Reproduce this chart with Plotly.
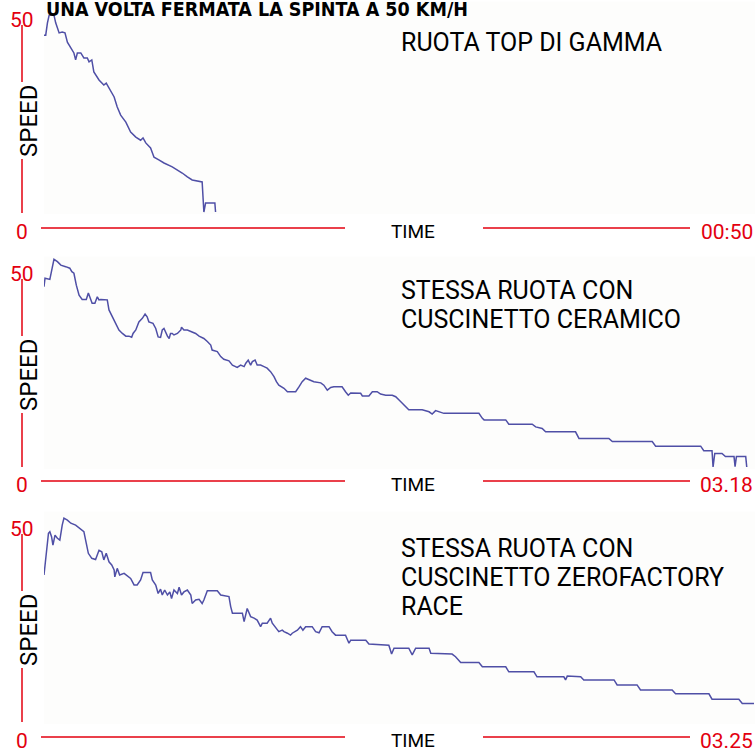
import plotly.graph_objects as go

# ---------------- data (time in s, speed in km/h) ----------------
t1 = [0, 0.5, 1.0, 1.5, 2.9, 3.4, 4.4, 5.3, 6.1, 6.8, 7.8, 8.7, 9.2, 9.7, 10.7, 11.6, 12.6, 13.1, 13.9,
      14.5, 16.0, 17.4, 18.1, 18.9, 20.4, 21.3, 22.3, 23.8, 25.2, 26.7, 28.1, 28.8, 29.6, 31.0, 32.0,
      33.4, 34.9, 37.3, 38.8, 40.2, 41.7, 43.1, 46.0, 46.2, 46.5, 47.0, 49.7, 49.9]
v1 = [45.8, 45.8, 49.0, 51.0, 51.0, 49.0, 46.4, 46.6, 46.4, 44.0, 42.5, 41.2, 39.4, 41.2, 41.2, 39.9, 39.9,
      38.9, 39.4, 36.3, 34.2, 32.9, 33.4, 32.1, 29.8, 27.2, 25.1, 23.3, 20.7, 19.4, 18.6, 19.2, 17.9,
      16.6, 14.2, 13.5, 12.7, 11.7, 10.9, 10.1, 9.1, 8.3, 7.8, 3.1, 0.0, 2.3, 2.3, 0.0]

t2 = [0, 0.3, 1.7, 2.9, 3.9, 4.9, 6.3, 7.5, 8.1, 8.7, 9.4, 10.2, 11.1, 12.3, 12.9, 13.3, 14.0, 14.8, 15.5,
      16.0, 16.5, 18.4, 18.9, 19.9, 20.8, 21.8, 22.8, 23.8, 24.7, 25.5, 25.9, 26.7, 27.6, 28.6, 29.4,
      30.0, 30.5, 31.7, 32.5, 33.2, 33.9, 34.4, 34.9, 35.4, 35.9, 36.4, 36.8, 37.3, 37.8, 38.8, 39.8,
      40.0, 40.7, 41.7, 43.1, 44.1, 45.1, 46.5, 47.5, 48.5, 48.9, 50.4, 51.4, 52.3, 53.8, 54.8, 56.2,
      57.2, 58.2, 58.7, 59.4, 60.1, 60.6, 61.4, 62.0, 63.0, 64.0, 64.9, 65.9, 66.9, 67.6, 68.3, 69.8,
      70.8, 72.2, 73.2, 74.2, 75.1, 76.1, 77.6, 78.5, 80.5, 81.4, 82.4, 83.4, 84.3, 86.7, 87.7, 88.5,
      89.2, 90.6, 92.1, 92.6, 94.5, 95.5, 96.9, 97.9, 99.4, 101.3, 102.3, 103.2, 104.2, 105.2, 106.1,
      110.0, 112.0, 112.9, 113.9, 116.3, 126.5, 127.5, 128.0, 134.3, 135.2, 142.0, 143.0, 144.9, 145.9,
      154.6, 155.6, 164.3, 165.3, 176.9, 177.9, 191.0, 191.9, 194.3, 194.6, 195.1, 197.2, 198.2, 200.7,
      201.0, 201.4, 204.1, 204.4]
v2 = [46.7, 48.9, 48.6, 53.8, 53.2, 52.3, 51.9, 51.5, 50.6, 50.2, 47.1, 44.5, 43.4, 43.4, 45.1, 44.1, 42.4,
      42.4, 44.1, 43.3, 43.4, 43.3, 40.7, 38.9, 37.2, 35.5, 34.6, 33.9, 33.9, 33.6, 34.6, 35.5, 37.6,
      38.5, 39.6, 38.9, 37.6, 37.2, 35.9, 33.7, 33.6, 35.5, 35.9, 34.6, 33.9, 33.3, 34.6, 34.6, 34.2,
      34.6, 35.5, 36.2, 35.5, 35.5, 35.0, 34.6, 33.9, 33.3, 32.5, 31.6, 30.3, 29.9, 28.6, 27.9, 27.5,
      26.4, 25.8, 26.4, 26.0, 26.9, 27.7, 26.4, 27.3, 27.7, 26.4, 26.4, 26.0, 25.6, 24.7, 23.4, 22.1,
      21.2, 20.4, 19.5, 19.5, 19.5, 20.8, 22.1, 23.0, 22.5, 22.1, 21.8, 21.2, 19.9, 20.6, 20.8, 20.8,
      19.5, 18.6, 19.2, 19.2, 19.1, 18.4, 18.4, 19.5, 19.5, 18.9, 18.6, 18.6, 18.2, 17.4, 16.5, 15.6,
      14.8, 14.8, 14.3, 13.7, 14.6, 13.9, 13.9, 12.6, 12.2, 12.2, 11.1, 11.1, 10.4, 10.0, 9.1, 9.1, 7.4,
      7.4, 6.6, 6.6, 5.4, 5.4, 4.2, 4.2, 0.0, 3.5, 3.5, 2.7, 2.7, 0.1, 2.7, 2.7, 0.0]

t3 = [0, 0.5, 1.3, 1.7, 2.2, 2.6, 3.2, 3.9, 4.6, 5.3, 5.8, 6.8, 7.8, 9.2, 10.2, 11.6, 12.3, 12.9, 13.9,
      15.0, 16.0, 16.8, 17.4, 18.1, 18.9, 19.7, 20.4, 20.6, 21.3, 22.0, 23.3, 24.5, 25.2, 26.2, 27.1,
      28.1, 28.8, 31.0, 31.5, 32.5, 33.2, 33.9, 34.4, 35.1, 35.9, 36.6, 37.1, 37.8, 38.8, 39.3, 40.0,
      40.7, 41.7, 42.7, 43.1, 44.1, 45.1, 46.0, 46.5, 47.5, 50.4, 51.4, 53.8, 54.3, 54.8, 57.7, 58.2,
      59.1, 60.1, 61.1, 62.0, 63.0, 63.5, 64.9, 65.9, 66.4, 67.4, 68.3, 69.3, 69.8, 70.8, 71.7, 72.2,
      73.7, 74.6, 75.3, 76.1, 78.0, 79.0, 80.0, 80.9, 82.9, 83.8, 84.8, 87.7, 88.7, 89.2, 93.6, 94.5,
      100.3, 101.1, 101.8, 106.1, 107.1, 108.1, 112.0, 112.5, 118.7, 119.7, 121.2, 126.5, 127.5, 134.3,
      135.2, 142.5, 143.4, 151.2, 151.7, 152.2, 156.1, 157.0, 165.8, 166.7, 172.5, 173.5, 182.7, 183.7,
      193.4, 194.3, 202.1, 203.1, 206.5]
v3 = [38.1, 42.8, 48.9, 49.3, 48.0, 45.8, 48.4, 47.6, 47.1, 51.0, 52.8, 52.3, 51.5, 51.0, 50.2, 49.3, 46.3,
      43.7, 42.4, 42.1, 44.5, 44.1, 42.0, 43.7, 41.5, 40.7, 39.4, 37.6, 39.8, 38.1, 38.5, 37.6, 37.2,
      35.5, 35.5, 36.8, 38.7, 38.7, 36.8, 35.5, 33.3, 34.4, 32.9, 34.2, 32.9, 33.7, 32.0, 34.2, 33.3,
      34.9, 32.9, 33.7, 34.2, 32.9, 30.7, 31.6, 31.8, 30.7, 31.6, 34.0, 34.0, 32.9, 32.5, 29.9, 28.2,
      28.2, 26.0, 29.4, 27.3, 26.9, 26.4, 24.7, 25.6, 25.6, 26.9, 25.6, 24.3, 23.4, 23.8, 23.4, 23.0,
      22.5, 23.0, 23.8, 24.7, 23.8, 24.7, 24.7, 23.4, 23.1, 24.7, 24.7, 23.4, 22.5, 22.5, 20.4, 21.2,
      21.2, 20.2, 19.9, 17.6, 19.1, 19.1, 17.4, 19.1, 19.1, 17.8, 17.6, 16.9, 15.4, 15.4, 14.3, 14.3,
      13.0, 13.0, 11.7, 11.7, 10.9, 11.9, 11.7, 10.9, 10.9, 9.6, 9.6, 8.3, 8.3, 7.3, 7.3, 5.9, 5.9,
      4.8, 4.8]

series_t = [t1, t2, t3]
series_v = [v1, v2, v3]
descriptions = [["RUOTA TOP DI GAMMA"],
                ["STESSA RUOTA CON", "CUSCINETTO CERAMICO"],
                ["STESSA RUOTA CON", "CUSCINETTO ZEROFACTORY", "RACE"]]
end_labels = ["00:50", "03.18", "03.25"]
y_top_label = "50"
y_zero_label = "0"
title = "UNA VOLTA FERMATA LA SPINTA A 50 KM/H"

# ---------------- layout helpers ----------------
W, H = 755, 751
RED = "#e3000f"
LINE = "#4f4fa6"
FONT = "Roboto"
TITLE_FONT = "Liberation Sans Narrow, DejaVu Sans Condensed, Roboto Condensed, Arial Narrow, Roboto, sans-serif"


def fx(p):
    return p / W


def fy(p):
    return 1 - p / H


bottoms = [212, 467, 722]          # pixel of speed 0 in each panel
ppu = 3.86                         # pixels per km/h
YR = [-0.5, 54.5]
desc_y = [[43], [290, 319], [548, 577, 606]]

fig = go.Figure()
layout = dict(width=W, height=H, margin=dict(l=0, r=0, t=0, b=0),
              paper_bgcolor="white", plot_bgcolor="#fdfdfc", showlegend=False)

shapes = []
annotations = []
for i in range(3):
    sfx = "" if i == 0 else str(i + 1)
    B = bottoms[i]
    b_px = B - YR[0] * ppu
    t_px = b_px - (YR[1] - YR[0]) * ppu
    layout["xaxis" + sfx] = dict(domain=[fx(44), 1], range=[0, 206.8], visible=False,
                                 anchor="y" + sfx, fixedrange=True)
    layout["yaxis" + sfx] = dict(domain=[fy(b_px), min(1, fy(t_px))], range=YR, visible=False,
                                 anchor="x" + sfx, fixedrange=True)
    fig.add_trace(go.Scatter(x=series_t[i], y=series_v[i], mode="lines",
                             line=dict(color=LINE, width=1.5),
                             xaxis="x" + sfx, yaxis="y" + sfx, hoverinfo="skip"))

    off = [0, 254, 509][i]
    shapes.append(dict(type="line", xref="paper", yref="paper", x0=fx(22), x1=fx(22),
                       y0=fy(25 + off), y1=fy(82 + off), line=dict(color=RED, width=1.5)))
    shapes.append(dict(type="line", xref="paper", yref="paper", x0=fx(22), x1=fx(22),
                       y0=fy(159 + off), y1=fy(213 + off), line=dict(color=RED, width=1.5)))
    hy = [228, 481, 737][i]
    shapes.append(dict(type="line", xref="paper", yref="paper", x0=fx(41), x1=fx(345),
                       y0=fy(hy), y1=fy(hy), line=dict(color=RED, width=1.5)))
    shapes.append(dict(type="line", xref="paper", yref="paper", x0=fx(483), x1=fx(690),
                       y0=fy(hy), y1=fy(hy), line=dict(color=RED, width=1.5)))

    annotations.append(dict(text=y_top_label, x=fx(22), y=fy(20 + off), xref="paper", yref="paper",
                            showarrow=False, xanchor="center", yanchor="middle",
                            font=dict(family=FONT, size=21, color=RED)))
    annotations.append(dict(text=y_zero_label, x=fx(22), y=fy(hy + 4), xref="paper", yref="paper",
                            showarrow=False, xanchor="center", yanchor="middle",
                            font=dict(family=FONT, size=21, color=RED)))
    annotations.append(dict(text="SPEED", x=fx(29), y=fy(121 + off), xref="paper", yref="paper",
                            showarrow=False, xanchor="center", yanchor="middle", textangle=-90,
                            font=dict(family=FONT, size=24, color="black")))
    annotations.append(dict(text="TIME", x=fx(413), y=fy(hy + 3), xref="paper", yref="paper",
                            showarrow=False, xanchor="center", yanchor="middle",
                            font=dict(family=FONT, size=19, color="black")))
    annotations.append(dict(text=end_labels[i], x=1, y=fy(hy + 4), xref="paper", yref="paper",
                            showarrow=False, xanchor="right", yanchor="middle",
                            font=dict(family=FONT, size=21, color=RED)))
    for line_txt, ly in zip(descriptions[i], desc_y[i]):
        annotations.append(dict(text=line_txt, x=fx(399), y=fy(ly),
                                xref="paper", yref="paper", showarrow=False, xanchor="left",
                                yanchor="middle", align="left",
                                font=dict(family=FONT, size=25, color="black")))

annotations.append(dict(text="<b>" + title + "</b>", x=fx(44), y=fy(9), xref="paper", yref="paper",
                        showarrow=False, xanchor="left", yanchor="middle",
                        font=dict(family=TITLE_FONT, size=19.5, color="black")))

layout["shapes"] = shapes
layout["annotations"] = annotations
fig.update_layout(**layout)
fig.write_html("out.html", config={"displayModeBar": False},
               post_script="document.body.style.margin='0';document.body.style.overflow='hidden';")
